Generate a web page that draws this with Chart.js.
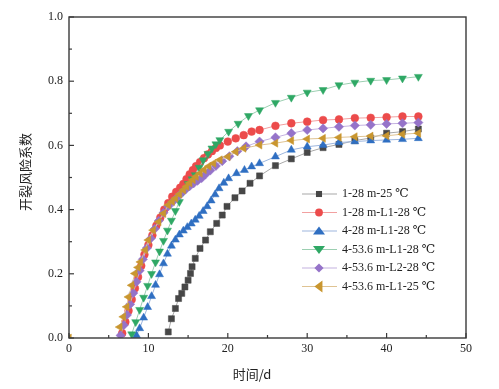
<!DOCTYPE html>
<html><head><meta charset="utf-8">
<script src="https://cdn.jsdelivr.net/npm/chart.js@4/dist/chart.umd.min.js"></script>
<style>html,body{margin:0;padding:0;background:#fff}</style>
</head><body>
<canvas id="c" width="499" height="389"></canvas>
<script>
// ---- data ----
const xTickValues = [0, 10, 20, 30, 40, 50];
const yTickValues = [0.0, 0.2, 0.4, 0.6, 0.8, 1.0];
const xTitle = '时间/d';
const yTitle = '开裂风险系数';
const seriesNames = ['1-28 m-25 \u2103', '1-28 m-L1-28 \u2103', '4-28 m-L1-28 \u2103',
  '4-53.6 m-L1-28 \u2103', '4-53.6 m-L2-28 \u2103', '4-53.6 m-L1-25 \u2103'];

const blackDays = [12.5,12.9,13.4,13.8,14.2,14.6,15.0,15.3,15.5,15.9,16.5,17.2,17.8,18.6,19.3,19.9,20.9,21.8,22.8,24,26,28,30,32,34,36,38,40,42,44];
const blackVals = [0.019,0.06,0.092,0.123,0.139,0.159,0.18,0.201,0.222,0.248,0.279,0.305,0.331,0.357,0.383,0.41,0.437,0.458,0.482,0.505,0.537,0.558,0.578,0.593,0.603,0.615,0.623,0.638,0.643,0.651];

const redDays = [6.7,7.1,7.5,7.9,8.3,8.7,9.1,9.5,10.0,10.5,11.0,11.5,12.0,12.5,13.0,13.5,14.0,14.4,14.8,15.2,15.6,16.0,16.5,17.0,17.5,18.0,18.5,19.0,20,21,22,23,24,26,28,30,32,34,36,38,40,42,44];
const redVals = [0.015,0.05,0.085,0.12,0.155,0.19,0.225,0.26,0.29,0.32,0.35,0.375,0.40,0.42,0.44,0.455,0.468,0.48,0.495,0.51,0.523,0.535,0.548,0.56,0.572,0.582,0.592,0.60,0.612,0.622,0.632,0.643,0.648,0.661,0.669,0.674,0.679,0.681,0.685,0.686,0.688,0.690,0.690];

const blueDays = [8.5,8.9,9.4,9.9,10.4,10.9,11.4,11.9,12.4,12.9,13.4,13.9,14.4,14.9,15.4,15.9,16.4,16.9,17.4,17.9,18.4,18.9,19.5,20.1,21.1,22.1,23.0,24,26,28,30,32,34,36,38,40,42,44];
const blueVals = [0.008,0.03,0.063,0.096,0.13,0.165,0.198,0.232,0.262,0.287,0.306,0.322,0.334,0.345,0.356,0.368,0.38,0.395,0.41,0.428,0.447,0.466,0.483,0.497,0.513,0.523,0.534,0.544,0.565,0.586,0.596,0.601,0.609,0.612,0.615,0.617,0.619,0.622];

const greenDays = [7.9,8.4,8.9,9.4,9.9,10.4,10.9,11.4,11.9,12.4,12.9,13.4,13.9,14.4,15.0,15.5,15.9,16.4,16.9,17.5,18.0,18.5,19.0,20.1,21.3,22.6,24,26,28,30,32,34,36,38,40,42,44];
const greenVals = [0.012,0.05,0.088,0.126,0.163,0.2,0.236,0.27,0.303,0.335,0.366,0.396,0.424,0.456,0.48,0.495,0.508,0.531,0.554,0.574,0.591,0.604,0.617,0.643,0.668,0.692,0.71,0.733,0.749,0.765,0.773,0.788,0.796,0.802,0.804,0.809,0.814];

const purpleDays = [6.5,6.9,7.3,7.7,8.1,8.5,8.9,9.3,9.8,10.3,10.8,11.3,11.9,12.5,13.1,13.7,14.2,14.7,15.2,15.7,16.2,16.7,17.2,17.8,18.5,19.3,20.2,21.2,22.3,24,26,28,30,32,34,36,38,40,42,44];
const purpleVals = [0.008,0.04,0.072,0.105,0.14,0.175,0.21,0.245,0.28,0.31,0.34,0.365,0.39,0.41,0.425,0.44,0.452,0.463,0.473,0.482,0.49,0.498,0.51,0.522,0.536,0.551,0.566,0.582,0.597,0.612,0.625,0.638,0.648,0.653,0.658,0.662,0.664,0.667,0.669,0.671];

// gold series: isolated first reading at the origin, then a gap (null) before the curve
const goldDays = [0,3,6.4,6.85,7.27,7.5,7.9,8.3,8.7,9.0,9.6,10.0,10.6,11.3,11.9,12.5,13.0,13.4,13.9,14.4,14.8,15.2,15.6,16.0,16.5,17.0,17.6,18.2,19.0,20,21,22,24,26,28,30,32,34,36,38,40,42,44];
const goldVals = [0,null,0.034,0.066,0.097,0.128,0.164,0.201,0.22,0.237,0.274,0.305,0.336,0.362,0.388,0.414,0.425,0.435,0.448,0.461,0.472,0.483,0.493,0.503,0.513,0.524,0.535,0.544,0.555,0.565,0.580,0.591,0.601,0.607,0.615,0.620,0.622,0.625,0.627,0.629,0.630,0.635,0.638];

// ---- styles ----
const markerColors = ['#474747','#EC4B4B','#2F6FC2','#2FA865','#9573C9','#C9962F'];
const lineColors = ['#a8a8a8','#f2a0a0','#9db6de','#9ccfb1','#c4b2e0','#dfc392'];
const pointStyles = ['rect','circle','triangle','triangle','rectRot','triangle'];
const rotations = [0,0,0,180,0,270];
const radii = [4.3,3.9,4.6,4.6,4.6,4.6];

const allDays = [blackDays, redDays, blueDays, greenDays, purpleDays, goldDays];
const allVals = [blackVals, redVals, blueVals, greenVals, purpleVals, goldVals];

const datasets = allDays.map((d, i) => ({
  label: seriesNames[i],
  data: d.map((x, k) => ({x: x, y: allVals[i][k]})),
  showLine: true,
  spanGaps: false,
  borderColor: lineColors[i],
  borderWidth: 1,
  backgroundColor: markerColors[i],
  pointBackgroundColor: markerColors[i],
  pointBorderColor: markerColors[i],
  pointBorderWidth: 0.5,
  pointStyle: pointStyles[i],
  pointRotation: rotations[i],
  pointRadius: radii[i],
  pointHoverRadius: radii[i],
  order: 6 - i
}));

function drawMarker(ctx, style, rot, r, x, y, color) {
  ctx.save();
  ctx.translate(x, y);
  ctx.rotate(rot * Math.PI / 180);
  ctx.fillStyle = color;
  ctx.beginPath();
  if (style === 'circle') {
    ctx.arc(0, 0, r, 0, Math.PI * 2);
  } else if (style === 'rect') {
    const s = r * Math.SQRT1_2 * 2;
    ctx.rect(-s / 2, -s / 2, s, s);
  } else if (style === 'rectRot') {
    ctx.moveTo(0, -r); ctx.lineTo(r, 0); ctx.lineTo(0, r); ctx.lineTo(-r, 0); ctx.closePath();
  } else if (style === 'triangle') {
    const w = r * 1.3;
    ctx.moveTo(0, -r); ctx.lineTo(w, r * 0.75); ctx.lineTo(-w, r * 0.75); ctx.closePath();
  }
  ctx.fill();
  ctx.restore();
}

const framePlugin = {
  id: 'frame',
  afterDraw(chart) {
    const ctx = chart.ctx;
    const a = chart.chartArea;
    const xs = chart.scales.x, ys = chart.scales.y;
    ctx.save();
    ctx.strokeStyle = '#3a3a3a';
    ctx.lineWidth = 1.4;
    ctx.strokeRect(a.left, a.top, a.right - a.left, a.bottom - a.top);
    ctx.lineWidth = 1.2;
    for (let v = 0; v <= 50; v += 5) {
      const px = xs.getPixelForValue(v);
      const len = (v % 10 === 0) ? 5 : 3;
      ctx.beginPath(); ctx.moveTo(px, a.bottom); ctx.lineTo(px, a.bottom - len); ctx.stroke();
    }
    for (let k = 0; k <= 10; k++) {
      const py = ys.getPixelForValue(k / 10);
      const len = (k % 2 === 0) ? 5 : 3;
      ctx.beginPath(); ctx.moveTo(a.left, py); ctx.lineTo(a.left + len, py); ctx.stroke();
    }
    // axis titles
    ctx.fillStyle = '#222';
    ctx.font = '13px "Noto Sans CJK SC", sans-serif';
    ctx.textAlign = 'center';
    ctx.textBaseline = 'middle';
    ctx.fillText(xTitle, 252, 374);
    ctx.save();
    ctx.translate(25, 172);
    ctx.rotate(-Math.PI / 2);
    ctx.fillText(yTitle, 0, 0);
    ctx.restore();
    // legend
    ctx.font = '12px "Liberation Serif", "DejaVu Serif", serif';
    ctx.textBaseline = 'middle';
    ctx.textAlign = 'left';
    seriesNames.forEach((name, i) => {
      const y = 194 + i * 18.5;
      ctx.strokeStyle = lineColors[i];
      ctx.lineWidth = 1.2;
      ctx.beginPath(); ctx.moveTo(302, y); ctx.lineTo(337, y); ctx.stroke();
      drawMarker(ctx, pointStyles[i], rotations[i], radii[i], 319, y, markerColors[i]);
      ctx.fillStyle = '#222';
      ctx.fillText(name, 342, y);
    });
    ctx.restore();
  }
};

new Chart(document.getElementById('c'), {
  type: 'scatter',
  data: { datasets: datasets },
  options: {
    responsive: false,
    animation: false,
    layout: { padding: { left: 0, top: 17, right: 33, bottom: 0 } },
    plugins: { legend: { display: false }, tooltip: { enabled: false } },
    scales: {
      x: {
        type: 'linear', min: 0, max: 50,
        afterBuildTicks: s => { s.ticks = xTickValues.map(v => ({value: v})); },
        afterFit: s => { s.height = 51; },
        grid: { display: false, drawTicks: false },
        border: { display: false },
        ticks: { color: '#222', padding: 4, font: { family: '"Liberation Serif", serif', size: 12 }, callback: v => String(v) },
        title: { display: false }
      },
      y: {
        type: 'linear', min: 0, max: 1,
        afterBuildTicks: s => { s.ticks = yTickValues.map(v => ({value: v})); },
        afterFit: s => { s.width = 69; },
        grid: { display: false, drawTicks: false },
        border: { display: false },
        ticks: { color: '#222', padding: 6, font: { family: '"Liberation Serif", serif', size: 12 }, callback: v => Number(v).toFixed(1) },
        title: { display: false }
      }
    }
  },
  plugins: [framePlugin]
});
</script>
</body></html>
